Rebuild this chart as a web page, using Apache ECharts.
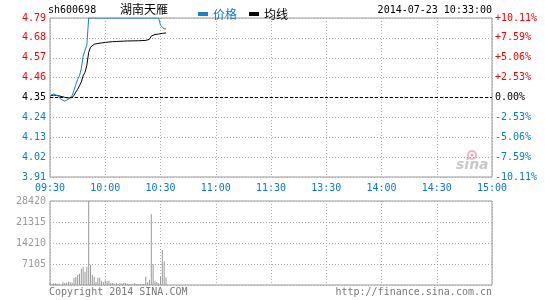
<!DOCTYPE html>
<html>
<head>
<meta charset="utf-8">
<script src="https://cdn.jsdelivr.net/npm/echarts@6/dist/echarts.min.js"></script>
<style>
    html, body { margin: 0; padding: 0; background: #fff; }
    #chart { width: 545px; height: 300px; }
</style>
</head>
<body>
<div id="chart"></div>
<script>
    // 昨收 / 时间刻度
    var prevClose = 4.35;
    var timeLabels = ['09:30', '10:00', '10:30', '11:00', '11:30', '13:30', '14:00', '14:30', '15:00'];
    var volTicks = [7105, 14210, 21315, 28420];

    // 每分钟价格 (09:30 起)
    var priceData = [
        4.36, 4.37, 4.37, 4.37, 4.36, 4.36, 4.34, 4.33, 4.33, 4.33,
        4.34, 4.35, 4.36, 4.39, 4.42, 4.45, 4.47, 4.51, 4.58, 4.59,
        4.64, 4.79, 4.79, 4.79, 4.79, 4.79, 4.79, 4.79, 4.79, 4.79,
        4.79, 4.79, 4.79, 4.79, 4.79, 4.79, 4.79, 4.79, 4.79, 4.79,
        4.79, 4.79, 4.79, 4.79, 4.79, 4.79, 4.79, 4.79, 4.79, 4.79,
        4.79, 4.79, 4.79, 4.79, 4.79, 4.79, 4.79, 4.79, 4.79, 4.79,
        4.75, 4.74, 4.73, 4.73
    ];
    // 均线
    var avgData = [
        4.360, 4.362, 4.363, 4.362, 4.361, 4.358, 4.356, 4.353, 4.351, 4.349,
        4.347, 4.347, 4.350, 4.362, 4.380, 4.395, 4.415, 4.436, 4.470, 4.490,
        4.528, 4.600, 4.628, 4.638, 4.645, 4.647, 4.649, 4.650, 4.652, 4.653,
        4.655, 4.656, 4.657, 4.658, 4.659, 4.660, 4.660, 4.661, 4.661, 4.662,
        4.662, 4.662, 4.663, 4.663, 4.663, 4.663, 4.664, 4.664, 4.664, 4.664,
        4.665, 4.665, 4.666, 4.667, 4.672, 4.690, 4.697, 4.699, 4.700, 4.701,
        4.703, 4.705, 4.707, 4.707
    ];
    // 成交量
    var volData = [
        670, 340, 560, 560, 450, 450, 110, 1000, 670, 780,
        1120, 900, 780, 2350, 2690, 3470, 3800, 5480, 6150, 4480,
        6150, 28420, 6830, 3470, 2800, 1000, 2460, 2460, 1450, 1000,
        1570, 1230, 1450, 780, 670, 450, 780, 340, 670, 450,
        670, 670, 450, 450, 340, 340, 670, 340, 340, 340,
        340, 340, 2800, 900, 1790, 23950, 7050, 1450, 1000, 560,
        2910, 11860, 7940, 2570
    ];

    var mono = 'DejaVu Sans Mono';
    var cjk = 'Noto Sans CJK SC';
    var red = '#ff0000', blue = '#0a78d2', lineBlue = '#1b7fd0', grey = '#999';

    function toCents(p) { return Math.round((p - prevClose) * 1000) / 10; }
    function upDownColor(v) { return v > 0 ? red : (v < 0 ? blue : '#000'); }

    var chart = echarts.init(document.getElementById('chart'));
    var option = {
        animation: false,
        textStyle: { fontFamily: mono },
        grid: [
            { left: 50, right: 53, top: 18, height: 159, show: true, borderColor: grey, borderWidth: 1 },
            { left: 50, right: 53, top: 201, height: 84, show: true, borderColor: grey, borderWidth: 1 }
        ],
        legend: {
            left: 193, top: 3, icon: 'rect', itemWidth: 10, itemHeight: 4, itemGap: 12,
            textStyle: { fontFamily: cjk, fontSize: 12 },
            data: [
                { name: '价格', textStyle: { color: blue } },
                { name: '均线', textStyle: { color: '#000' } }
            ]
        },
        xAxis: [
            {
                type: 'value', gridIndex: 0, min: 0, max: 240, interval: 30,
                axisLine: { show: false }, axisTick: { show: false },
                axisLabel: {
                    color: blue, fontFamily: mono, fontSize: 10, margin: 6,
                    formatter: function (v) { return timeLabels[v / 30]; }
                },
                splitLine: { lineStyle: { color: '#aaa', type: [1, 2] } }
            },
            {
                type: 'value', gridIndex: 1, min: 0, max: 240, interval: 30,
                axisLine: { show: false }, axisTick: { show: false },
                axisLabel: { show: false },
                splitLine: { lineStyle: { color: '#aaa', type: [1, 2] } }
            }
        ],
        yAxis: [
            {
                type: 'value', gridIndex: 0, min: -44, max: 44, interval: 11,
                axisLine: { show: false }, axisTick: { show: false },
                axisLabel: {
                    fontFamily: mono, fontSize: 10, margin: 4,
                    color: upDownColor,
                    formatter: function (v) { return (prevClose + v / 100).toFixed(2); }
                },
                splitLine: { lineStyle: { color: '#aaa', type: [1, 2] } }
            },
            {
                type: 'value', gridIndex: 0, position: 'right', min: -44, max: 44, interval: 11,
                axisLine: { show: false }, axisTick: { show: false },
                axisLabel: {
                    fontFamily: mono, fontSize: 10, margin: 3,
                    color: upDownColor,
                    formatter: function (v) {
                        var s = (v / prevClose).toFixed(2) + '%';
                        return v > 0 ? '+' + s : s;
                    }
                },
                splitLine: { show: false }
            },
            {
                type: 'value', gridIndex: 1, min: 0, max: 28420, interval: 7105,
                axisLine: { show: false }, axisTick: { show: false },
                axisLabel: {
                    color: grey, fontFamily: mono, fontSize: 10, margin: 4,
                    formatter: function (v) { return volTicks.indexOf(v) >= 0 ? String(v) : ''; }
                },
                splitLine: { lineStyle: { color: '#aaa', type: [1, 2] } }
            }
        ],
        series: [
            {
                name: '价格', type: 'line', xAxisIndex: 0, yAxisIndex: 0,
                showSymbol: false, color: lineBlue,
                lineStyle: { width: 1, color: lineBlue },
                data: priceData.map(function (p, i) { return [i, toCents(p)]; }),
                markLine: {
                    silent: true, symbol: 'none', label: { show: false },
                    lineStyle: { color: '#000', type: [3, 2], width: 1 },
                    data: [{ yAxis: 0 }]
                },
                z: 3
            },
            {
                name: '均线', type: 'line', xAxisIndex: 0, yAxisIndex: 0,
                showSymbol: false, color: '#000',
                lineStyle: { width: 1, color: '#000' },
                data: avgData.map(function (p, i) { return [i, toCents(p)]; }),
                z: 2
            },
            {
                name: '成交量', type: 'bar', xAxisIndex: 1, yAxisIndex: 2,
                barWidth: 1, itemStyle: { color: grey },
                data: volData.map(function (v, i) { return [i, v]; })
            }
        ],
        graphic: [
            { type: 'text', left: 48, top: 5, style: { text: 'sh600698', font: '10px "DejaVu Sans Mono"', fill: '#000' } },
            { type: 'text', left: 120, top: 3, style: { text: '湖南天雁', font: '12px "Noto Sans CJK SC"', fill: '#000' } },
            { type: 'text', right: 53, top: 5, style: { text: '2014-07-23 10:33:00', font: '10px "DejaVu Sans Mono"', fill: '#000' } },
            { type: 'text', left: 49, top: 287, style: { text: 'Copyright 2014 SINA.COM', font: '10px "DejaVu Sans Mono"', fill: '#777' } },
            { type: 'text', right: 53, top: 287, style: { text: 'http://finance.sina.com.cn', font: '10px "DejaVu Sans Mono"', fill: '#777' } },
            { type: 'circle', shape: { cx: 472, cy: 155, r: 4 }, style: { fill: 'none', stroke: '#f5b5b5', lineWidth: 2 } },
            { type: 'circle', shape: { cx: 472, cy: 155, r: 1.5 }, style: { fill: '#bbb' } },
            { type: 'text', left: 456, top: 158, style: { text: 'sina', font: 'italic bold 14px "DejaVu Sans"', fill: '#c8c8c8' } }
        ]
    };
    chart.setOption(option);
</script>
</body>
</html>
